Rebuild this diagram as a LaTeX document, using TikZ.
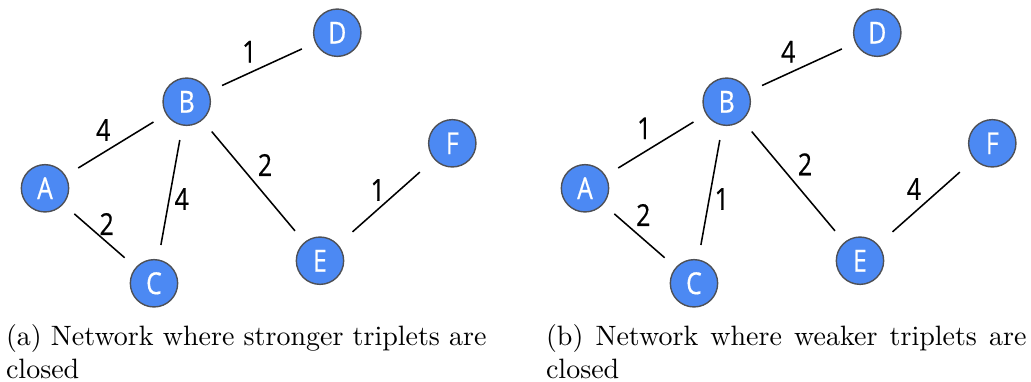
\documentclass[tikz,border=0pt]{standalone}
\usepackage{fontspec}
\newfontfamily\graphfont[FakeStretch=0.82, FakeBold=0.5]{Open Sans}
\usetikzlibrary{positioning}

\definecolor{nodeblue}{RGB}{76,137,243}
\definecolor{nodeshade}{RGB}{42,86,170}
\definecolor{ringgray}{RGB}{78,80,86}

% flat blue disc that darkens towards its lower edge
\pgfdeclareradialshading{nodeball}{\pgfpoint{-3bp}{7bp}}{%
  color(0bp)=(nodeblue);
  color(34bp)=(nodeblue);
  color(47bp)=(nodeshade);
  color(60bp)=(nodeshade)}

\tikzset{
  vert/.style={circle, minimum size=16.9pt, inner sep=0pt, draw=ringgray,
    line width=0.5pt, shade, shading=nodeball, text=white,
    font=\graphfont\fontsize{10.8}{12}\selectfont},
  link/.style={draw=black, line width=0.55pt, shorten >=5.2pt, shorten <=5.2pt},
  weight/.style={inner sep=0pt, font=\graphfont\fontsize{10.8}{12}\selectfont},
  caption/.style={anchor=north west, inner sep=0pt, text width=171.6pt,
    align=justify, font=\fontsize{10}{12}\selectfont}
}

\begin{document}
\begin{tikzpicture}[x=0.3571pt, y=-0.3571pt]
\useasboundingbox (0,0) rectangle (1031,381);

% ---- (a) stronger triplets closed ----
\node[vert] (aA) at (45,188.3) {A};
\node[vert] (aB) at (186.7,101.7) {B};
\node[vert] (aC) at (154,283.3) {C};
\node[vert] (aD) at (337.3,32.7) {D};
\node[vert] (aE) at (320,260.7) {E};
\node[vert] (aF) at (452.3,143.3) {F};

\draw[link] (aA) -- (aB);
\draw[link] (aB) -- (aD);
\draw[link] (aB) -- (aC);
\draw[link] (aB) -- (aE);
\draw[link] (aA) -- (aC);
\draw[link, shorten >=6.8pt, shorten <=6.8pt] (aE) -- (aF);

\node[weight] (waAB) at (103.3,130) {4};
\node[weight] (waBD) at (249.3,51.7) {1};
\node[weight] (waBC) at (181.7,199) {4};
\node[weight] (waBE) at (265,165) {2};
\node[weight] (waEF) at (377.7,190) {1};
\node[weight] (waAC) at (106.7,224) {2};

% ---- (b) weaker triplets closed ----
\node[vert] (bA) at (585,188.3) {A};
\node[vert] (bB) at (726.7,101.7) {B};
\node[vert] (bC) at (694,283.3) {C};
\node[vert] (bD) at (877.3,32.7) {D};
\node[vert] (bE) at (860,260.7) {E};
\node[vert] (bF) at (992.3,143.3) {F};

\draw[link] (bA) -- (bB);
\draw[link] (bB) -- (bD);
\draw[link] (bB) -- (bC);
\draw[link] (bB) -- (bE);
\draw[link] (bA) -- (bC);
\draw[link, shorten >=6.8pt, shorten <=6.8pt] (bE) -- (bF);

\node[weight] (wbAB) at (644.3,128.3) {1};
\node[weight] (wbBD) at (788.3,51.7) {4};
\node[weight] (wbBC) at (721.7,199) {1};
\node[weight] (wbBE) at (805,164.3) {2};
\node[weight] (wbEF) at (914,189) {4};
\node[weight] (wbAC) at (643.3,215) {2};

% ---- captions ----
\node[caption] (capa) at (5.5,321.2) {\strut(a) Network where stronger triplets are closed};
\node[caption] (capb) at (545.5,321.2) {\strut(b) Network where weaker triplets are closed};
\end{tikzpicture}
\end{document}
